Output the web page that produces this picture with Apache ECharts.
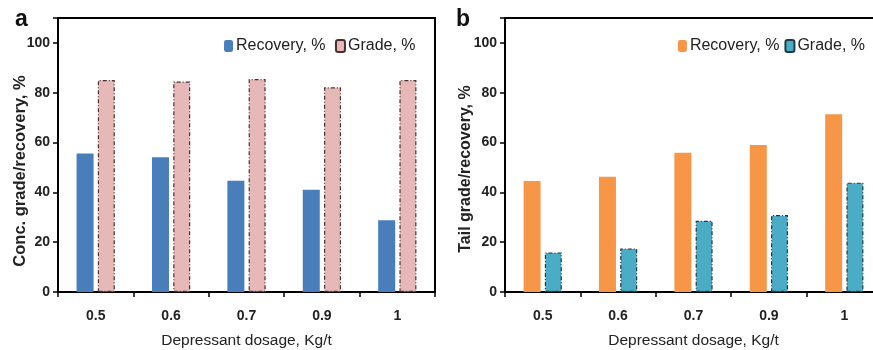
<!DOCTYPE html>
<html lang="en">
<head>
<meta charset="UTF-8">
<title>Depressant dosage</title>
<script src="https://cdn.jsdelivr.net/npm/echarts@6/dist/echarts.min.js"></script>
<style>
  html, body { margin: 0; padding: 0; background: #fff; }
  #main { width: 873px; height: 350px; }
</style>
</head>
<body>
<div id="main"></div>
<script>
// dosage, Kg/t
var dosages = ['0.5', '0.6', '0.7', '0.9', '1'];
// (a) concentrate
var concRecovery = [55.6, 54.1, 44.7, 41, 28.8];
var concGrade = [85.1, 84.5, 85.5, 82.2, 85.1];
// (b) tail
var tailRecovery = [44.6, 46.3, 55.9, 59, 71.4];
var tailGrade = [15.9, 17.5, 28.6, 30.9, 43.9];

var font = '"Liberation Sans Narrow", "Arial Narrow", "Liberation Sans", Arial, sans-serif';

var chart = echarts.init(document.getElementById('main'));

function xAxisFor(idx) {
  return {
    type: 'category',
    gridIndex: idx,
    data: dosages,
    name: 'Depressant dosage, Kg/t',
    nameLocation: 'middle',
    nameGap: 41,
    nameTextStyle: { fontFamily: font, fontSize: 15.5, color: '#222' },
    axisLine: { lineStyle: { color: '#000', width: 2 } },
    axisTick: { show: true, length: 5, lineStyle: { color: '#000', width: 1.5 } },
    axisLabel: { fontFamily: font, fontSize: 14, fontWeight: 'bold', color: '#222', margin: 17 }
  };
}

function yAxisFor(idx) {
  return {
    type: 'value',
    gridIndex: idx,
    min: 0,
    max: 110,
    interval: 20,
    axisLine: { show: true, lineStyle: { color: '#000', width: 2 } },
    axisTick: { show: true, length: 5, lineStyle: { color: '#000', width: 1.5 } },
    splitLine: { show: false },
    axisLabel: {
      fontFamily: font, fontSize: 14, fontWeight: 'bold', color: '#222', margin: 8,
      formatter: function (v) { return v > 100 ? '' : v; }
    }
  };
}

var dashStyle = [4, 2, 1, 2];
var legendText = { fontFamily: font, fontSize: 16, color: '#222', padding: [0, 0, 0, -2] };

var option = {
  animation: false,
  grid: [
    { left: 58, top: 18, width: 377, height: 274, outerBoundsMode: 'none', show: true, borderColor: '#000', borderWidth: 2 },
    { left: 505, top: 18, width: 377, height: 274, outerBoundsMode: 'none', show: true, borderColor: '#000', borderWidth: 2 }
  ],
  xAxis: [xAxisFor(0), xAxisFor(1)],
  yAxis: [yAxisFor(0), yAxisFor(1)],
  legend: [
    {
      data: ['Recovery, % ', 'Grade, % '],
      right: 448, top: 33,
      itemWidth: 9, itemHeight: 12, itemGap: 5,
      textStyle: legendText
    },
    {
      data: ['Recovery, %', 'Grade, %'],
      right: 3, top: 33,
      itemWidth: 9, itemHeight: 12, itemGap: 5,
      textStyle: legendText
    }
  ],
  graphic: [
    { type: 'text', x: 15, y: 20, style: { text: 'a', font: 'bold 23px "Liberation Sans", Arial, sans-serif', fill: '#111', verticalAlign: 'middle' } },
    { type: 'text', x: 456, y: 20, style: { text: 'b', font: 'bold 23px "Liberation Sans", Arial, sans-serif', fill: '#111', verticalAlign: 'middle' } },
    {
      type: 'text', x: 20, y: 171, rotation: Math.PI / 2,
      style: { text: 'Conc. grade/recovery, %', font: 'bold 16.5px ' + font, fill: '#222', align: 'center', verticalAlign: 'middle' }
    },
    {
      type: 'text', x: 466, y: 169, rotation: Math.PI / 2,
      style: { text: 'Tail grade/recovery, %', font: 'bold 16px ' + font, fill: '#222', align: 'center', verticalAlign: 'middle' }
    }
  ],
  series: [
    {
      name: 'Recovery, % ', type: 'bar', xAxisIndex: 0, yAxisIndex: 0,
      data: concRecovery, barWidth: 17, barGap: '25%',
      itemStyle: { color: '#4a7ebb' }
    },
    {
      name: 'Grade, % ', type: 'bar', xAxisIndex: 0, yAxisIndex: 0,
      data: concGrade, barWidth: 17, barGap: '25%',
      itemStyle: { color: '#e6b9b8', borderColor: '#4a3030', borderWidth: 1.2, borderType: dashStyle }
    },
    {
      name: 'Recovery, %', type: 'bar', xAxisIndex: 1, yAxisIndex: 1,
      data: tailRecovery, barWidth: 17, barGap: '25%',
      itemStyle: { color: '#f79646' }
    },
    {
      name: 'Grade, %', type: 'bar', xAxisIndex: 1, yAxisIndex: 1,
      data: tailGrade, barWidth: 17, barGap: '25%',
      itemStyle: { color: '#4bacc6', borderColor: '#1f3a44', borderWidth: 1.2, borderType: dashStyle }
    }
  ]
};

chart.setOption(option);
</script>
</body>
</html>
